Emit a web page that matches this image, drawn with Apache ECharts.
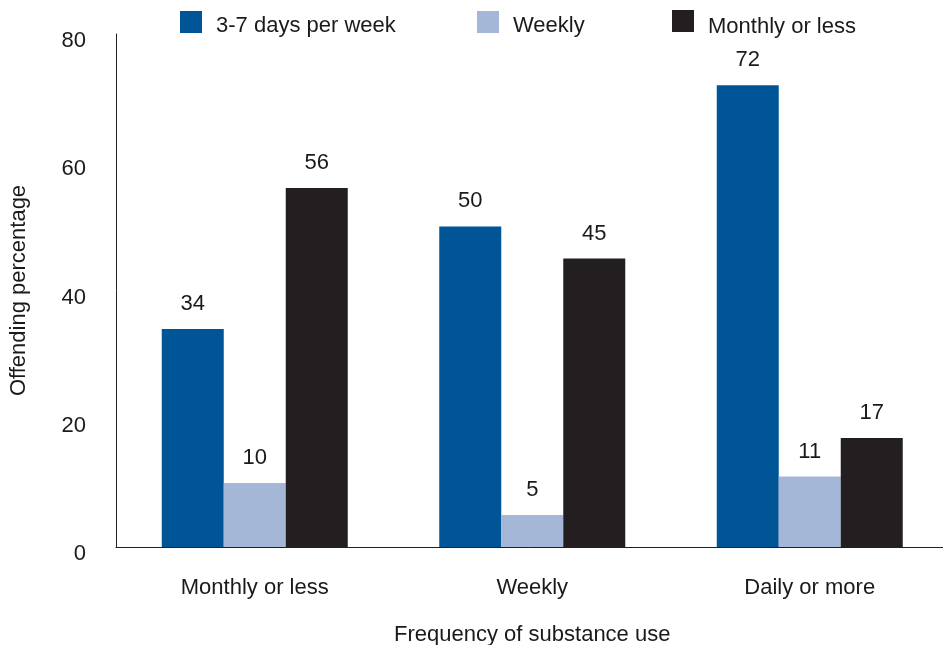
<!DOCTYPE html>
<html><head><meta charset="utf-8">
<script src="https://cdn.jsdelivr.net/npm/echarts@6/dist/echarts.min.js"></script>
<style>html,body{margin:0;padding:0;background:#fff}#c{width:943px;height:645px}</style>
</head><body><div id="c"></div>
<script>
const categories = ["Monthly or less", "Weekly", "Daily or more"];
const seriesNames = ["3-7 days per week", "Weekly", "Monthly or less"];
const daysPerWeek = [34, 50, 72];
const weekly = [10, 5, 11];
const monthlyOrLess = [56, 45, 17];
const yTicks = [0, 20, 40, 60, 80];

const colors = ["#005596", "#a5b7d6", "#231f20"];
const font = "'Liberation Sans', Arial, sans-serif";
const fs = 22;
const chart = echarts.init(document.getElementById('c'), null, {renderer: 'canvas'});
const values = [daysPerWeek, weekly, monthlyOrLess];
const legendLeft = [180, 477, 672];
const legendTop = [11, 11, 10];
chart.setOption({
  animation: false,
  textStyle: {fontFamily: font},
  legend: seriesNames.map((n, i) => ({
    data: [n], left: legendLeft[i], top: legendTop[i], icon: 'rect',
    itemWidth: 22, itemHeight: 22, itemGap: 0, padding: 0,
    formatter: name => '{t|' + name + '}',
    textStyle: {fontSize: fs, color: '#1a1a1a', fontFamily: font, padding: [0, 0, 0, 9],
      rich: {t: {fontSize: fs, color: '#1a1a1a', fontFamily: font, padding: [i === 2 ? 12 : 8, 0, 0, 0]}}}
  })),
  grid: {left: 116, top: 34, bottom: 98, right: -5.5, containLabel: false, outerBoundsMode: 'none'},
  xAxis: {
    type: 'category', data: categories,
    axisLine: {lineStyle: {color: '#231f20', width: 1}},
    axisTick: {show: false},
    axisLabel: {fontSize: fs, color: '#1a1a1a', margin: 30, fontFamily: font},
    name: 'Frequency of substance use', nameLocation: 'middle', nameGap: 77,
    nameTextStyle: {fontSize: fs, color: '#1a1a1a', fontFamily: font}
  },
  yAxis: {
    type: 'value', min: 0, max: 80, interval: 20,
    axisLine: {show: true, lineStyle: {color: '#231f20', width: 1}},
    axisTick: {show: false},
    splitLine: {show: false},
    axisLabel: {fontSize: fs, color: '#1a1a1a', margin: 30, verticalAlign: 'top', lineHeight: 14, fontFamily: font,
      formatter: v => yTicks.includes(v) ? String(v) : ''},
    name: 'Offending percentage', nameLocation: 'middle', nameGap: 86, nameRotate: 90,
    nameTextStyle: {fontSize: fs, color: '#1a1a1a', fontFamily: font}
  },
  series: seriesNames.map((n, i) => ({
    name: n, type: 'bar', data: values[i], barWidth: 62, barGap: '0%',
    itemStyle: {color: colors[i]},
    label: {show: true, position: 'top', distance: 14, fontSize: fs, color: '#1a1a1a', fontFamily: font}
  }))
});
</script></body></html>
